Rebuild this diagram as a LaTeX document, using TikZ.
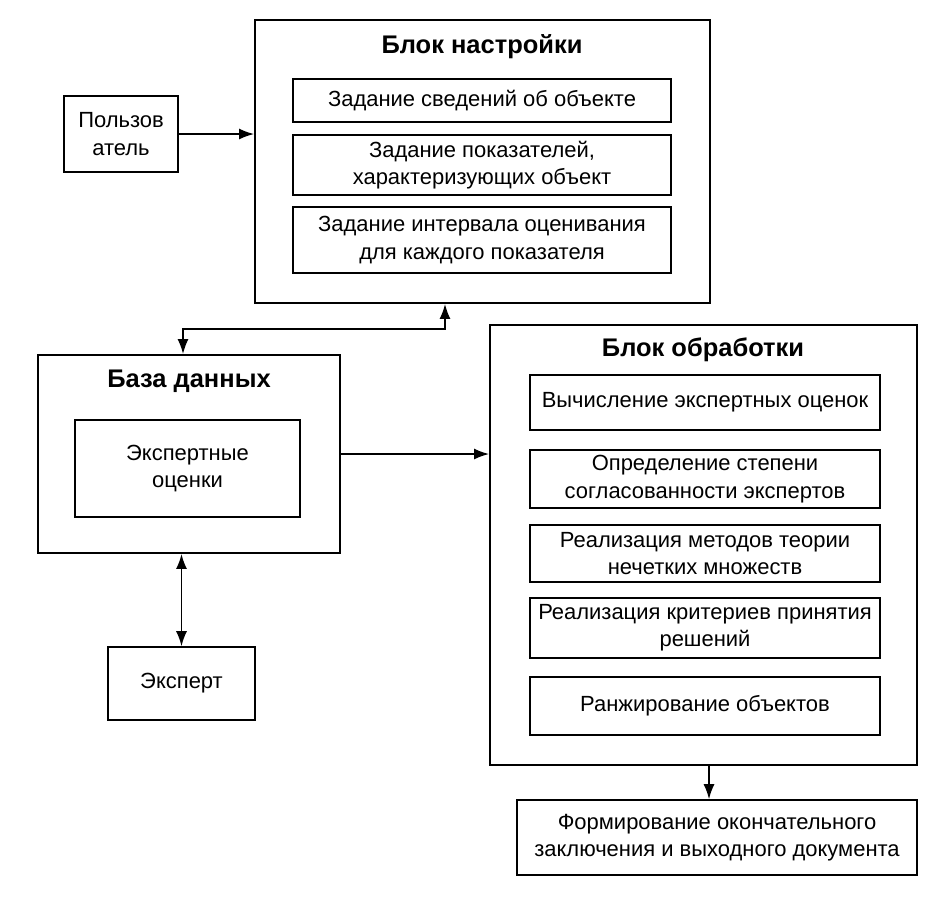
\documentclass[tikz,border=0pt]{standalone}
\usepackage{fontspec}
\setmainfont{Liberation Sans}
\usetikzlibrary{arrows.meta}
\tikzset{
	blok/.style={draw,line width=1.1pt,inner sep=0pt},
	punkt/.style={draw,line width=.9pt,align=center,font=\fontsize{12.5}{15.5}\selectfont,inner sep=2pt},
	zagl/.style={font=\fontsize{14.5}{18}\selectfont\bfseries},
	str/.style={line width=.9pt,-{Latex[length=3mm,width=2.2mm]}},
	dstr/.style={line width=.9pt,{Latex[length=3mm,width=2.2mm]}-{Latex[length=3mm,width=2.2mm]}}
}

\begin{document}
\begin{tikzpicture}[x=.02cm,y=-.02cm]
			\useasboundingbox (0,0) rectangle (946,904);
			\node[blok,minimum width=9.1cm,minimum height=5.66cm] (nastr) at (482.5,161.5) {};
			\node[zagl] (tnastr) at (482,47) {Блок настройки};
				\node[punkt,minimum width=7.56cm,minimum height=.86cm] (z1) at (482,100.5) {Задание сведений об объекте};
				\node[punkt,minimum width=7.56cm,minimum height=1.2cm] (z2) at (482,165) {Задание показателей,\\характеризующих объект};
				\node[punkt,minimum width=7.56cm,minimum height=1.32cm] (z3) at (482,240) {Задание интервала оценивания\\для каждого показателя};
			\node[punkt,minimum width=2.28cm,minimum height=1.52cm] (polz) at (121,134) {Пользов\\атель};
			\node[blok,minimum width=6.04cm,minimum height=3.96cm] (baza) at (189,454) {};
			\node[zagl] (tbaza) at (189,381) {База данных};
				\node[punkt,minimum width=4.5cm,minimum height=1.94cm] (ocen) at (187.5,468.5) {Экспертные\\оценки};
			\node[punkt,minimum width=2.94cm,minimum height=1.46cm] (ekspert) at (181.5,683.5) {Эксперт};
			\node[blok,minimum width=8.54cm,minimum height=8.8cm] (obr) at (703.5,545) {};
			\node[zagl] (tobr) at (703,350) {Блок обработки};
				\node[punkt,minimum width=7cm,minimum height=1.1cm] (o1) at (705,402.5) {Вычисление экспертных оценок};
				\node[punkt,minimum width=7cm,minimum height=1.16cm] (o2) at (705,479) {Определение степени\\согласованности экспертов};
				\node[punkt,minimum width=7cm,minimum height=1.14cm] (o3) at (705,553.5) {Реализация методов теории\\нечетких множеств};
				\node[punkt,minimum width=7cm,minimum height=1.2cm] (o4) at (705,628) {Реализация критериев принятия\\решений};
				\node[punkt,minimum width=7cm,minimum height=1.16cm] (o5) at (705,706) {Ранжирование объектов};
			\node[punkt,minimum width=8cm,minimum height=1.5cm] (itog) at (717,837.5) {Формирование окончательного\\заключения и выходного документа};
			\coordinate (k1) at (445,329);
			\coordinate (k2) at (183,329);
			\coordinate (k3) at (709,782);
			\draw[str] (polz) -- (polz -| nastr.west);
			\draw[dstr] (k1 |- nastr.south) -- (k1) -- (k2) -- (k2 |- baza.north);
			\draw[str] (baza.east) -- (baza.east -| obr.west);
			\draw[dstr] (ekspert.north) -- (ekspert.north |- baza.south);
			\draw[str] (k3 |- obr.south) -- (k3 |- itog.north);
		\end{tikzpicture}
\end{document}
